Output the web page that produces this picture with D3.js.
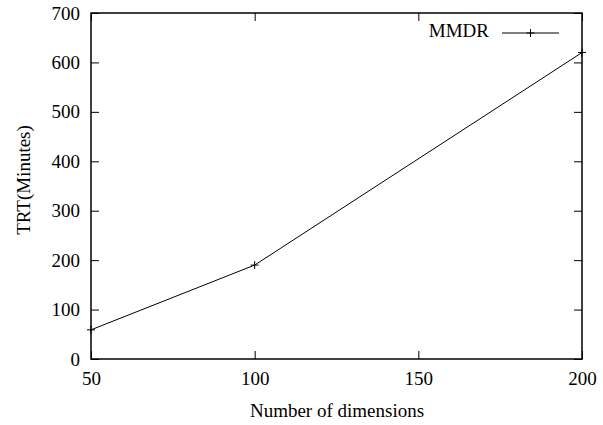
<!DOCTYPE html>
<html>
<head>
<meta charset="utf-8">
<script src="https://cdn.jsdelivr.net/npm/d3@7"></script>
<style>
  body { margin: 0; background: #fff; }
  text { font-family: "Liberation Serif", "Times New Roman", serif; fill: #000; }
</style>
</head>
<body>
<svg id="chart" width="603" height="425"></svg>
<script>
const dimensions = [50, 100, 200];
const trt_minutes = [59, 190, 620];
const x_ticks = [50, 100, 150, 200];
const y_ticks = [0, 100, 200, 300, 400, 500, 600, 700];
const series_name = 'MMDR';

const data = dimensions.map((d, i) => ({ dim: d, trt: trt_minutes[i] }));

const fontSize = '19px';
const svg = d3.select('#chart');
const margin = { top: 13, right: 21, bottom: 66, left: 91 };
const width = +svg.attr('width') - margin.left - margin.right;
const height = +svg.attr('height') - margin.top - margin.bottom;

const xScale = d3.scaleLinear().domain([50, 200]).range([0, width]);
const yScale = d3.scaleLinear().domain([0, 700]).range([height, 0]);

const g = svg.append('g')
  .attr('transform', `translate(${margin.left},${margin.top})`);

const tickLen = 8;

// axes with inward ticks, gnuplot style
g.append('g')
  .attr('transform', `translate(0,${height})`)
  .call(d3.axisBottom(xScale).tickValues(x_ticks).tickSizeInner(-tickLen).tickSizeOuter(0).tickPadding(13))
  .call(a => a.select('.domain').remove())
  .selectAll('text').style('font-size', fontSize);

g.append('g')
  .call(d3.axisLeft(yScale).tickValues(y_ticks).tickSizeInner(-tickLen).tickSizeOuter(0).tickPadding(11))
  .call(a => a.select('.domain').remove())
  .selectAll('text').style('font-size', fontSize);

// mirrored ticks
g.append('g')
  .call(d3.axisTop(xScale).tickValues(x_ticks).tickSizeInner(-tickLen).tickSizeOuter(0).tickFormat(''))
  .call(a => a.select('.domain').remove());

g.append('g')
  .attr('transform', `translate(${width},0)`)
  .call(d3.axisRight(yScale).tickValues(y_ticks).tickSizeInner(-tickLen).tickSizeOuter(0).tickFormat(''))
  .call(a => a.select('.domain').remove());

g.selectAll('.tick line').attr('stroke', '#000').attr('stroke-width', 1);

// frame
g.append('rect')
  .attr('width', width)
  .attr('height', height)
  .attr('fill', 'none')
  .attr('stroke', '#000')
  .attr('stroke-width', 1.5);

// line
const line = d3.line().x(d => xScale(d.dim)).y(d => yScale(d.trt));
g.append('path')
  .datum(data)
  .attr('fill', 'none')
  .attr('stroke', '#000')
  .attr('stroke-width', 1)
  .attr('d', line);

// plus markers
function drawPlus(sel, cx, cy) {
  sel.append('path')
    .attr('d', `M${cx - 4},${cy}H${cx + 4}M${cx},${cy - 4}V${cy + 4}`)
    .attr('stroke', '#000')
    .attr('stroke-width', 1);
}
data.forEach(d => drawPlus(g, xScale(d.dim), yScale(d.trt)));

// legend
const legY = 20;
g.append('text')
  .attr('x', 398)
  .attr('y', legY + 4)
  .attr('text-anchor', 'end')
  .style('font-size', fontSize)
  .text(series_name);
g.append('line')
  .attr('x1', 411).attr('x2', 468)
  .attr('y1', legY).attr('y2', legY)
  .attr('stroke', '#000');
drawPlus(g, 439.5, legY);

// axis labels
svg.append('text')
  .attr('x', 337)
  .attr('y', 417)
  .attr('text-anchor', 'middle')
  .style('font-size', fontSize)
  .text('Number of dimensions');

svg.append('text')
  .attr('transform', `translate(30,180) rotate(-90)`)
  .attr('text-anchor', 'middle')
  .style('font-size', fontSize)
  .text('TRT(Minutes)');
</script>
</body>
</html>
